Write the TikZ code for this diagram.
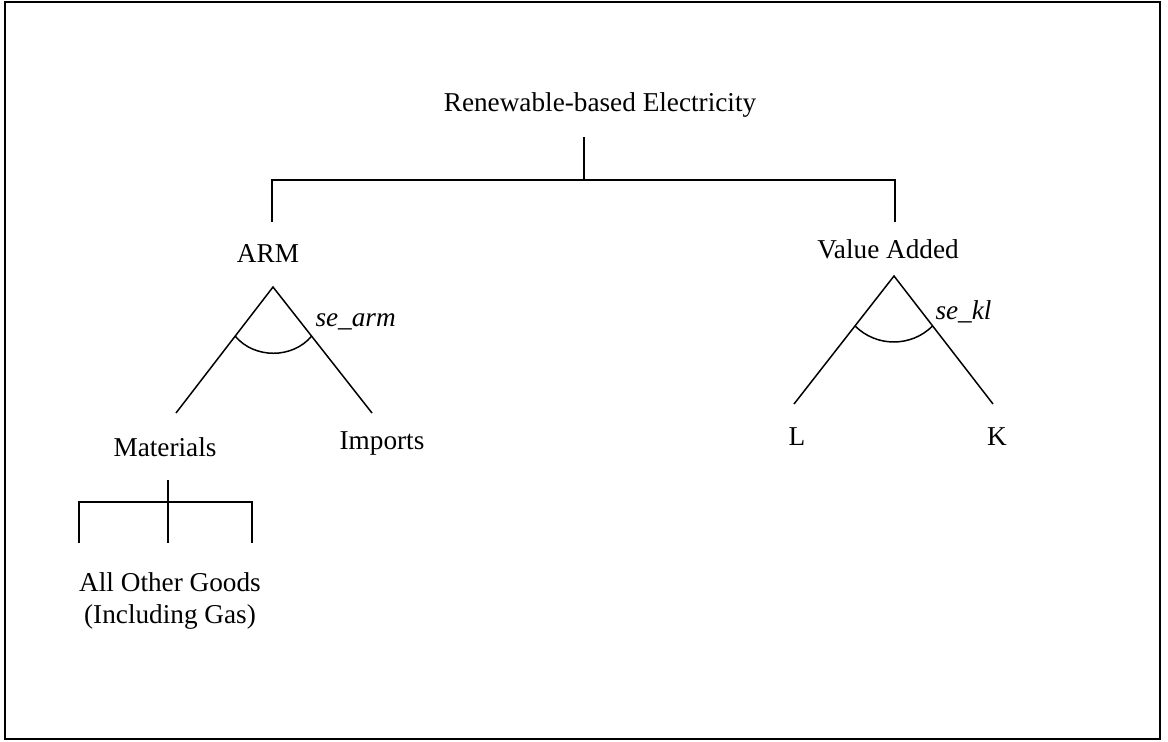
\documentclass[tikz,border=0pt]{standalone}
\usepackage{fontspec}
\setmainfont{Liberation Serif}
\usetikzlibrary{calc}

\begin{document}
\begin{tikzpicture}[x=0.02cm, y=-0.02cm, line width=0.85pt,
    lbl/.style={inner sep=1pt, font=\fontsize{15.5}{18}\selectfont},
    elas/.style={inner sep=1pt, anchor=west, font=\fontsize{15.5}{18}\selectfont\itshape}]
    \useasboundingbox (0,0) rectangle (1168,741);
    \draw[line width=1.5pt] (5,2) rectangle (1160,739);

    \node[lbl] (elec) at (600,105) {Renewable-based Electricity};
    \node[lbl] (arm) at (268,254) {ARM};
    \node[lbl] (va) at (888,249) {Value Added};
    \node[lbl] (mat) at (165,447) {Materials};
    \node[lbl] (imp) at (382,443) {Imports};
    \node[lbl, align=center] (aog) at (170,601) {All Other Goods\\(Including Gas)};
    \node[lbl] (lab) at (797,437) {L};
    \node[lbl] (cap) at (997,437) {K};
    \node[elas] (searm) at (313,322) {se\_arm};
    \node[elas] (sekl) at (933,312) {se\_kl};

    \coordinate (elecS) at (584,137);
    \coordinate (elecJ) at (584,180);
    \coordinate (armT) at (272,222);
    \coordinate (vaT) at (895,222);
    \coordinate (armA) at (273,287);
    \coordinate (armL) at (176,413);
    \coordinate (armR) at (372,413);
    \coordinate (vaA) at (894,276);
    \coordinate (vaL) at (794,404);
    \coordinate (vaR) at (993,404);
    \coordinate (matS) at (168,480);
    \coordinate (matJ) at (168,502);
    \coordinate (aogL) at (79,543);
    \coordinate (aogM) at (168,543);
    \coordinate (aogR) at (252,543);
    \coordinate (armP) at ($(armA)!0.39!(armL)$);
    \coordinate (armQ) at ($(armA)!0.39!(armR)$);
    \coordinate (vaP) at ($(vaA)!0.39!(vaL)$);
    \coordinate (vaQ) at ($(vaA)!0.39!(vaR)$);

    \draw (elecS) -- (elecJ);
    \draw (armT) |- (elecJ) -| (vaT);
    \draw (armL) -- (armA) -- (armR);
    \draw (vaL) -- (vaA) -- (vaR);
    \draw (armP) to[bend right=50] (armQ);
    \draw (vaP) to[bend right=45] (vaQ);
    \draw (matS) -- (aogM);
    \draw (aogL) |- (matJ) -| (aogR);
\end{tikzpicture}
\end{document}
